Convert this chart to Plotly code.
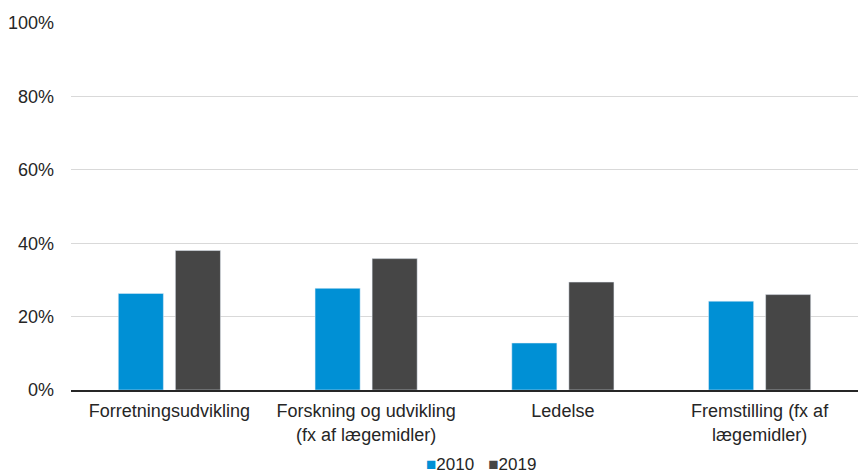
import plotly.graph_objects as go

categories = [
    "Forretningsudvikling",
    "Forskning og udvikling<br>(fx af lægemidler)",
    "Ledelse",
    "Fremstilling (fx af<br>lægemidler)",
]
series_names = ["2010", "2019"]
share_2010 = [0.263, 0.277, 0.128, 0.242]
share_2019 = [0.380, 0.358, 0.294, 0.260]
colors = ["#0090D5", "#464646"]

fig = go.Figure()
for name, values, color in zip(series_names, [share_2010, share_2019], colors):
    fig.add_trace(go.Bar(name=name, x=categories, y=values, marker_color=color))

# Compact legend row: coloured square followed directly by the series name
legend_text = "&#160;&#160;&#160;".join(
    f"<span style='color:{c}'>■</span>{n}" for n, c in zip(series_names, colors)
)
fig.add_annotation(
    text=legend_text,
    xref="paper",
    yref="paper",
    x=0.521,
    y=-0.204,
    xanchor="center",
    yanchor="middle",
    showarrow=False,
    font=dict(size=17),
)

font_family = "Liberation Sans, Arial, sans-serif"
fig.update_layout(
    width=859,
    height=475,
    margin=dict(l=71, r=1, t=23, b=85, autoexpand=False),
    paper_bgcolor="white",
    plot_bgcolor="white",
    barmode="group",
    bargap=0.42,
    bargroupgap=0.21,
    font=dict(family=font_family, size=18, color="#262626"),
    showlegend=False,
)
fig.update_yaxes(
    range=[0, 1],
    tickvals=[0, 0.2, 0.4, 0.6, 0.8, 1.0],
    tickformat=".0%",
    showgrid=True,
    gridcolor="#d9d9d9",
    gridwidth=1,
    zeroline=False,
    showline=False,
    ticks="",
    ticklabelstandoff=16,
    tickfont=dict(size=18),
)
fig.update_xaxes(
    showline=True,
    linecolor="#262626",
    linewidth=1.5,
    ticks="",
    ticklabelstandoff=4,
    tickfont=dict(size=18),
)

fig.write_html("out.html")
